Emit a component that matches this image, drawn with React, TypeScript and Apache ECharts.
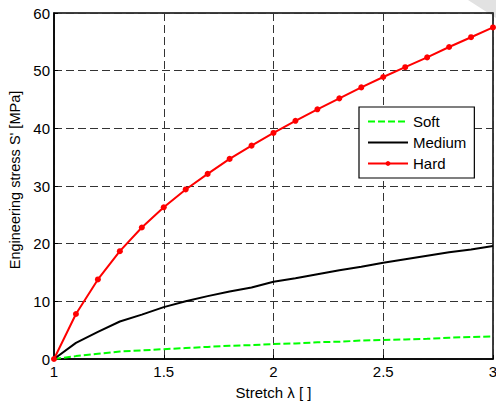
import React, { useEffect, useRef } from "react";
import * as echarts from "echarts";

const stretch = [1.0, 1.1, 1.2, 1.3, 1.4, 1.5, 1.6, 1.7, 1.8, 1.9, 2.0, 2.1, 2.2, 2.3, 2.4, 2.5, 2.6, 2.7, 2.8, 2.9, 3.0];
const softValues = [0, 0.5, 0.9, 1.3, 1.5, 1.7, 1.9, 2.1, 2.3, 2.4, 2.6, 2.7, 2.9, 3.0, 3.2, 3.3, 3.4, 3.5, 3.7, 3.8, 3.9];
const mediumValues = [0, 2.8, 4.7, 6.5, 7.7, 9.0, 10.0, 10.9, 11.7, 12.4, 13.4, 14.0, 14.7, 15.4, 16.0, 16.7, 17.3, 17.9, 18.5, 19.0, 19.6];
const hardValues = [0, 7.8, 13.8, 18.7, 22.8, 26.3, 29.4, 32.1, 34.7, 37.0, 39.2, 41.3, 43.3, 45.2, 47.1, 48.9, 50.6, 52.3, 54.1, 55.8, 57.5];
const seriesNames = ["Soft", "Medium", "Hard"];
const xTicks = { min: 1, max: 3, interval: 0.5 };
const yTicks = { min: 0, max: 60, interval: 10 };

const FONT = "'Liberation Sans', Arial, Helvetica, sans-serif";

export default function App() {
  const ref = useRef<HTMLDivElement>(null);
  useEffect(() => {
    if (!ref.current) return;
    const chart = echarts.init(ref.current, null, { renderer: "svg" });
    const pairs = (vals: number[]) => stretch.map((x, i) => [x, vals[i]]);
    const gridLine = { show: true, lineStyle: { color: "#333", width: 1, type: [8, 4] as any } };
    chart.setOption({
      animation: false,
      backgroundColor: "#ffffff",
      textStyle: { fontFamily: FONT },
      grid: {
        left: 54, top: 13, right: 3, bottom: 44,
        outerBoundsMode: "none",
        containLabel: false,
        show: true, borderColor: "#000", borderWidth: 1.5, backgroundColor: "transparent",
      },
      xAxis: {
        type: "value",
        min: xTicks.min,
        max: xTicks.max,
        interval: xTicks.interval,
        name: "Stretch λ [ ]",
        nameLocation: "middle",
        nameGap: 26,
        nameTextStyle: { color: "#000", fontSize: 15, fontFamily: FONT },
        axisLine: { show: true, lineStyle: { color: "#000", width: 1.5 } },
        axisTick: { show: true, inside: true, length: 4, lineStyle: { color: "#000" } },
        axisLabel: { color: "#000", fontSize: 15, margin: 5, fontFamily: FONT },
        splitLine: gridLine,
      },
      yAxis: {
        type: "value",
        min: yTicks.min,
        max: yTicks.max,
        interval: yTicks.interval,
        name: "Engineering stress S' [MPa]",
        nameLocation: "middle",
        nameGap: 30,
        nameTextStyle: { color: "#000", fontSize: 14.5, fontFamily: FONT, padding: [0, 0, 0, 12] },
        axisLine: { show: true, lineStyle: { color: "#000", width: 1.5 } },
        axisTick: { show: true, inside: true, length: 4, lineStyle: { color: "#000" } },
        axisLabel: { color: "#000", fontSize: 15, margin: 4, fontFamily: FONT },
        splitLine: gridLine,
      },
      legend: {
        orient: "vertical",
        left: 359,
        top: 107,
        padding: [7, 8, 7, 8],
        itemWidth: 40,
        itemHeight: 6,
        itemGap: 6,
        backgroundColor: "#fff",
        borderColor: "#000",
        borderWidth: 1.2,
        borderRadius: 0,
        textStyle: { color: "#000", fontSize: 15, fontFamily: FONT },
        data: [
          { name: seriesNames[0], itemStyle: { opacity: 0 } },
          { name: seriesNames[1], itemStyle: { opacity: 0 } },
          { name: seriesNames[2] },
        ],
      },
      series: [
        {
          name: seriesNames[0],
          type: "line",
          data: pairs(softValues),
          symbol: "none",
          lineStyle: { color: "#00ff00", width: 2, type: [7, 3] },
          itemStyle: { color: "#00ff00" },
          z: 3,
        },
        {
          name: seriesNames[1],
          type: "line",
          data: pairs(mediumValues),
          symbol: "none",
          lineStyle: { color: "#000", width: 2 },
          itemStyle: { color: "#000" },
          z: 4,
        },
        {
          name: seriesNames[2],
          type: "line",
          data: pairs(hardValues),
          symbol: "circle",
          symbolSize: 6,
          lineStyle: { color: "#ff0000", width: 2 },
          itemStyle: { color: "#ff0000" },
          z: 5,
        },
      ],
      graphic: [
        {
          type: "polygon",
          shape: { points: [[468, 0], [496, 0], [496, 18]] },
          style: { fill: "#e2e2e2" },
          z: -1,
        },
      ],
    });
    return () => chart.dispose();
  }, []);
  return <div ref={ref} style={{ position: "fixed", left: 0, top: 0, width: 496, height: 403 }} />;
}
